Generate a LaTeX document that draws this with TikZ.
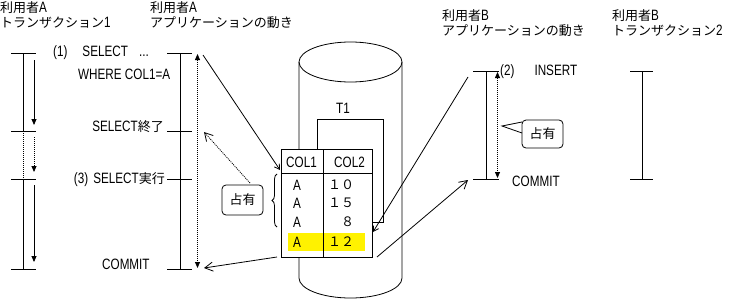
\documentclass[tikz,border=0pt]{standalone}
\usepackage{fontspec}
\setmainfont{Noto Sans CJK JP}
\newfontfamily\latfont[FakeStretch=0.78]{Liberation Sans}
\newcommand\lt[1]{{\fontsize{15}{17}\latfont #1}}
\usetikzlibrary{arrows.meta,decorations.pathreplacing}
\begin{document}
\begin{tikzpicture}[x=1pt,y=-1pt,
  txt/.style={inner sep=0pt,font=\fontsize{13}{15}\selectfont},
  lbl/.style={txt,anchor=west},
  rlbl/.style={txt,anchor=east},
  ln/.style={line width=0.8pt},
  dotl/.style={line width=0.8pt,dash pattern=on 1pt off 1pt},
  ftip/.style={-{Triangle[length=6pt,width=5pt]}},
  fboth/.style={{Triangle[length=6pt,width=5pt]}-{Triangle[length=6pt,width=5pt]}},
  sbarb/.style={-{Straight Barb[length=5pt,width=6pt]}},
  obarb/.style={-{Straight Barb[length=8pt,width=9pt]}},
  occ/.style={draw,line width=0.8pt,rounded corners=4pt,inner sep=0pt,font=\fontsize{13}{15}\selectfont}
]
\useasboundingbox (0,0) rectangle (730,300);

% headers
\node[lbl] (hA1) at (0,8) {利用者\lt{A}};
\node[lbl] (hA2) at (0,23) {トランザクション\lt{1}};
\node[lbl] (hB1) at (150,8) {利用者\lt{A}};
\node[lbl] (hB2) at (150,23) {アプリケーションの動き};
\node[lbl] (hC1) at (442,16) {利用者\lt{B}};
\node[lbl] (hC2) at (442,31) {アプリケーションの動き};
\node[lbl] (hD1) at (612,16) {利用者\lt{B}};
\node[lbl] (hD2) at (612,31) {トランザクション\lt{2}};

% transaction 1
\foreach \yy in {53,131,179,269} \draw[ln] (11,\yy) -- (36,\yy);
\draw[ln] (23,53) -- (23,131);
\draw[dotl] (23,131) -- (23,179);
\draw[ln] (23,179) -- (23,269);
\draw[ln,ftip] (34,60) -- (34,125);
\draw[dotl,ftip] (34,137) -- (34,172);
\draw[ln,ftip] (34,185) -- (34,262);

% application A
\foreach \yy in {53,131,179,269} \draw[ln] (167,\yy) -- (192,\yy);
\draw[ln] (180,53) -- (180,269);
\draw[dotl,fboth] (197.5,54) -- (197.5,268);
\node[lbl] (s1) at (53,53) {\lt{(1)\hspace{15pt}SELECT\hspace{11pt}...}};
\node[lbl] (s1b) at (78,74) {\lt{WHERE COL1=A}};
\node[rlbl] (s2) at (164,127) {\lt{SELECT}終了};
\node[rlbl] (s3) at (165,180) {\lt{(3)\hspace{5pt}SELECT}実行};
\node[lbl] (s4) at (102,264) {\lt{COMMIT}};

% cylinder
\draw[ln] (299,62) -- (299,278) arc[start angle=180,end angle=0,x radius=51.5,y radius=20] -- (402,62);
\draw[ln] (350.5,62) ellipse[x radius=51.5,y radius=20];

% T1 box
\draw[ln] (317,119) rectangle (383,222);
\node[txt] (t1) at (343,108) {\lt{T1}};

% table
\node[draw,ln,fill=white,minimum width=91pt,minimum height=108pt,inner sep=0pt] (tbl) at (326.5,203) {};
\fill[yellow] (288,233) rectangle (365,251);
\draw[ln] (281,173) -- (372,173);
\draw[ln] (323,149) -- (323,257);
\node[txt] (c1) at (301.5,162) {\lt{COL1}};
\node[txt] (c2) at (349.5,162) {\lt{COL2}};
\foreach \yy/\vv [count=\i] in {185/１０,203/１５,222/　８,242/１２}{
  \node[txt] (ra\i) at (297,\yy) {\lt{A}};
  \node[txt] (rb\i) at (341,\yy) {\vv};
}
\draw[ln,decorate,decoration={brace,amplitude=5pt}] (277,227) -- (277,174);

% occupy A
\node[occ,minimum width=41pt,minimum height=30pt] (occA) at (242.5,200) {占有};

% application B
\foreach \yy in {71,179} \draw[ln] (473,\yy) -- (499,\yy);
\draw[ln] (486,71) -- (486,179);
\draw[dotl,fboth] (497.5,72) -- (497.5,178);
\node[lbl] (i1) at (500,72) {\lt{(2)\hspace{20pt}INSERT}};
\node[lbl] (i2) at (512,181) {\lt{COMMIT}};
\node[occ,minimum width=41pt,minimum height=28pt] (occB) at (542.5,134) {占有};
\fill[white] (521,122.5) -- (502,126) -- (521,132.5) -- cycle;
\coordinate (pt) at (502,126);
\draw[ln] (522,122) -- (pt) -- (522,133);

% transaction 2
\foreach \yy in {71,179} \draw[ln] (630,\yy) -- (653,\yy);
\draw[ln] (642,71) -- (642,179);

% connectors
\coordinate (a1) at (203,55);
\coordinate (a2) at (280,170);
\draw[ln,sbarb] (a1) -- (a2);
\coordinate (d1) at (250,183);
\coordinate (d2) at (204,132);
\draw[dotl,obarb] (d1) -- (d2);
\coordinate (e1) at (277,257);
\coordinate (e2) at (204,268);
\draw[ln,obarb] (e1) -- (e2);
\coordinate (f1) at (468,77);
\coordinate (f2) at (373,232);
\draw[ln,sbarb] (f1) -- (f2);
\coordinate (g1) at (377,257);
\coordinate (g2) at (468,180);
\draw[ln,obarb] (g1) -- (g2);
\end{tikzpicture}
\end{document}
